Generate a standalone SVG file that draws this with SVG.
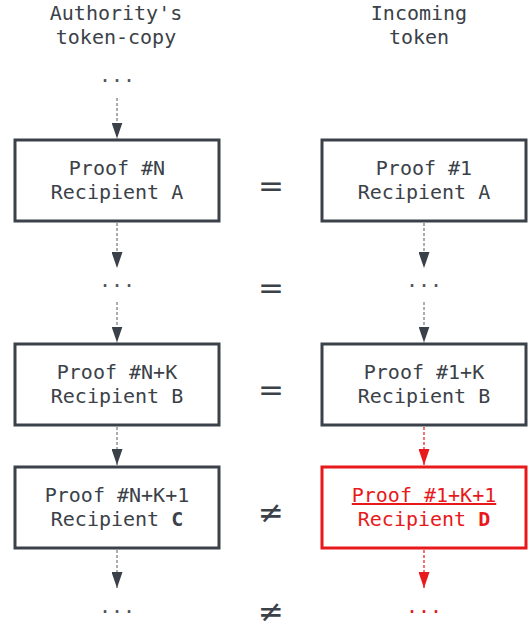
<svg xmlns="http://www.w3.org/2000/svg" width="529" height="629" viewBox="0 0 529 629">
<style>
.t{font-family:"DejaVu Sans Mono","Liberation Mono",monospace;font-size:20px;fill:#3b4148;text-anchor:middle}
.dots{font-family:"DejaVu Sans Mono","Liberation Mono",monospace;font-size:20px;fill:#50555b;text-anchor:middle}
.box{fill:#fff;stroke:#3b4148;stroke-width:3}
.rbox{fill:#fff;stroke:#e8191a;stroke-width:3}
.red{fill:#e8191a}
.op{font-family:"DejaVu Sans",sans-serif;font-size:31px;fill:#3b4148;text-anchor:middle}
.c{fill:none;stroke:#555b62;stroke-width:1;stroke-dasharray:3,2}
.rc{fill:none;stroke:#e8191a;stroke-width:1.2;stroke-dasharray:3,2}
</style>
<defs>
<marker id="ah" markerUnits="userSpaceOnUse" markerWidth="16" markerHeight="11" refX="16" refY="5.5" orient="auto">
<path d="M0,0 L16,5.5 L0,11 z" fill="#3b4148"/>
</marker>
<marker id="ahr" markerUnits="userSpaceOnUse" markerWidth="16" markerHeight="11" refX="16" refY="5.5" orient="auto">
<path d="M0,0 L16,5.5 L0,11 z" fill="#e8191a"/>
</marker>
</defs>
<g id="titles">
<text class="t" x="116" y="20">Authority's</text>
<text class="t" x="116" y="44">token-copy</text>
<text class="t" x="419" y="20">Incoming</text>
<text class="t" x="419" y="44">token</text>
</g>
<g id="connectors">
<line class="c" x1="117" y1="98" x2="117" y2="138.5" marker-end="url(#ah)"/>
<line class="c" x1="117" y1="223" x2="117" y2="268" marker-end="url(#ah)"/>
<line class="c" x1="117" y1="302" x2="117" y2="342.5" marker-end="url(#ah)"/>
<line class="c" x1="117" y1="427" x2="117" y2="465" marker-end="url(#ah)"/>
<line class="c" x1="117" y1="550" x2="117" y2="588" marker-end="url(#ah)"/>
<line class="c" x1="424" y1="223" x2="424" y2="268" marker-end="url(#ah)"/>
<line class="c" x1="424" y1="302" x2="424" y2="342.5" marker-end="url(#ah)"/>
<line class="rc" x1="424" y1="427" x2="424" y2="465" marker-end="url(#ahr)"/>
<line class="rc" x1="424" y1="550" x2="424" y2="588" marker-end="url(#ahr)"/>
</g>
<g id="dots-top"><text class="dots" x="117" y="82">...</text></g>
<g id="L1"><rect class="box" x="15" y="140" width="204" height="81"/>
<text class="t" x="117" y="175">Proof #N</text><text class="t" x="117" y="199">Recipient A</text></g>
<g id="R1"><rect class="box" x="322" y="140" width="204" height="81"/>
<text class="t" x="424" y="175">Proof #1</text><text class="t" x="424" y="199">Recipient A</text></g>
<g id="dots-mid"><text class="dots" x="117" y="287">...</text><text class="dots" x="424" y="287">...</text></g>
<g id="L2"><rect class="box" x="15" y="344" width="204" height="81"/>
<text class="t" x="117" y="379">Proof #N+K</text><text class="t" x="117" y="403">Recipient B</text></g>
<g id="R2"><rect class="box" x="322" y="344" width="204" height="81"/>
<text class="t" x="424" y="379">Proof #1+K</text><text class="t" x="424" y="403">Recipient B</text></g>
<g id="L3"><rect class="box" x="15" y="467" width="204" height="81"/>
<text class="t" x="117" y="502">Proof #N+K+1</text><text class="t" x="117" y="526">Recipient <tspan font-weight="bold">C</tspan></text></g>
<g id="R3"><rect class="rbox" x="322" y="467" width="204" height="81"/>
<text class="t red" x="424" y="502" text-decoration="underline">Proof #1+K+1</text><text class="t red" x="424" y="526">Recipient <tspan font-weight="bold">D</tspan></text></g>
<g id="dots-bottom"><text class="dots" x="117" y="613">...</text><text class="dots red" x="424" y="613">...</text></g>
<g id="operators">
<text class="op" x="271" y="196">=</text>
<text class="op" x="271" y="298">=</text>
<text class="op" x="271" y="400">=</text>
<text class="op" x="271" y="523">≠</text>
<text class="op" x="271" y="622">≠</text>
</g>
</svg>
